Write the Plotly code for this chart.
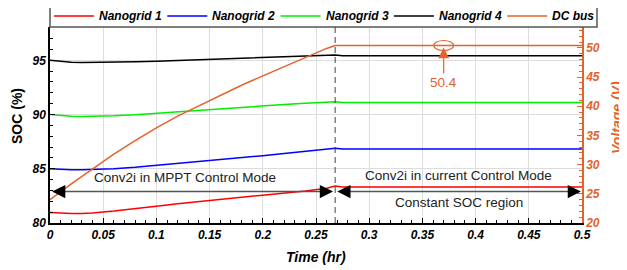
import plotly.graph_objects as go

# ---------------- data ----------------
time_hr = [0, 0.01, 0.02, 0.03, 0.04, 0.06, 0.08, 0.10, 0.12, 0.14, 0.16, 0.18, 0.20,
           0.22, 0.24, 0.26, 0.268, 0.275, 0.30, 0.35, 0.40, 0.45, 0.50]
soc_ng1 = [80.97, 80.9, 80.87, 80.88, 80.93, 81.1, 81.3, 81.55, 81.78, 82.0, 82.2, 82.38,
           82.56, 82.75, 82.95, 83.2, 83.4, 83.32, 83.32, 83.32, 83.32, 83.32, 83.32]
soc_ng2 = [85.0, 84.93, 84.9, 84.9, 84.92, 85.0, 85.13, 85.3, 85.47, 85.65, 85.83, 86.02,
           86.2, 86.4, 86.6, 86.8, 86.88, 86.83, 86.83, 86.83, 86.83, 86.83, 86.83]
soc_ng3 = [90.0, 89.9, 89.84, 89.82, 89.82, 89.88, 89.98, 90.12, 90.27, 90.42, 90.57, 90.7,
           90.82, 90.93, 91.03, 91.13, 91.18, 91.12, 91.12, 91.12, 91.12, 91.12, 91.12]
soc_ng4 = [95.0, 94.9, 94.82, 94.8, 94.8, 94.82, 94.86, 94.92, 94.98, 95.05, 95.12, 95.19,
           95.26, 95.33, 95.4, 95.46, 95.48, 95.42, 95.42, 95.42, 95.42, 95.42, 95.42]
v_dcbus = [24.0, 25.4, 26.7, 28.0, 29.3, 31.8, 34.1, 36.3, 38.3, 40.1, 41.9, 43.6, 45.2,
           46.8, 48.4, 49.9, 50.4, 50.4, 50.4, 50.4, 50.4, 50.4, 50.4]
series_names = ["Nanogrid 1", "Nanogrid 2", "Nanogrid 3", "Nanogrid 4", "DC bus"]

t_switch = 0.268        # mode change time
arrow_soc = 82.9        # level of region arrows
mark_t, mark_v = 0.37, 50.4
mark_label = "50.4"
x_ticks = [0, 0.05, 0.1, 0.15, 0.2, 0.25, 0.3, 0.35, 0.4, 0.45, 0.5]

# ---------------- style ----------------
OFF = 8                      # default page (body) margin of the html page
W, H = 627 - OFF, 270 - OFF
ML, MT = 50 - OFF, 27 - OFF
MR = W - (582 - OFF)
MB = H - (223 - OFF)
PW, PH = W - ML - MR, H - MT - MB
ORANGE = "#E5622C"
FONT = "Liberation Sans, Arial, sans-serif"
colors = ["#FF0000", "#0000FF", "#00EE00", "#000000", ORANGE]


def px_x(p):  # page pixel -> paper x
    return (p - OFF - ML) / PW


def px_y(p):  # page pixel -> paper y
    return (H - MB - (p - OFF)) / PH


fig = go.Figure()
for name, ys, c in zip(series_names[:4], [soc_ng1, soc_ng2, soc_ng3, soc_ng4], colors[:4]):
    fig.add_trace(go.Scatter(x=time_hr, y=ys, name=name, mode="lines",
                             line=dict(color=c, width=1.5)))
fig.add_trace(go.Scatter(x=time_hr, y=v_dcbus, name=series_names[4], mode="lines",
                         line=dict(color=ORANGE, width=1.5), yaxis="y2"))

tickfont = dict(family=FONT, size=12, color="black", weight="bold", style="italic")

fig.update_layout(
    width=W, height=H,
    margin=dict(l=ML, r=MR, t=MT, b=MB, autoexpand=False),
    paper_bgcolor="white", plot_bgcolor="white",
    font=dict(family=FONT, color="black"),
    showlegend=False,
    xaxis=dict(range=[0, 0.5], tickvals=x_ticks, ticks="inside", ticklen=5, tickwidth=1.2,
               tickcolor="black", showline=True, linecolor="black", linewidth=1.5,
               showgrid=True, gridcolor="#DDDDDD", gridwidth=1, zeroline=False,
               minor=dict(dtick=0.01, ticks="inside", ticklen=3, tickcolor="black", showgrid=False),
               tickfont=tickfont),
    yaxis=dict(range=[80, 98.07], tick0=80, dtick=5, ticks="inside", ticklen=5, tickwidth=1.2,
               tickcolor="black", showline=True, linecolor="black", linewidth=1.5,
               showgrid=True, gridcolor="#DDDDDD", gridwidth=1, zeroline=False,
               minor=dict(dtick=1, ticks="inside", ticklen=3, tickcolor="black", showgrid=False),
               tickfont=tickfont),
    yaxis2=dict(range=[20, 53.57], tick0=20, dtick=5, overlaying="y", side="right",
                ticks="inside", ticklen=5, tickwidth=1.2, tickcolor=ORANGE,
                showline=True, linecolor=ORANGE, linewidth=1.5,
                showgrid=False, zeroline=False,
                minor=dict(dtick=1, ticks="inside", ticklen=3, tickcolor=ORANGE, showgrid=False),
                tickfont=dict(family=FONT, size=12, color=ORANGE, weight="bold", style="italic")),
)

# ---------- legend box (drawn from series names / colours) ----------
fig.add_shape(type="rect", xref="paper", yref="paper", x0=px_x(50), x1=px_x(597),
              y0=px_y(27), y1=px_y(5), line=dict(color="#555555", width=1.5),
              fillcolor="white", layer="above")
leg_x0, leg_step = 54, 113.3
for i, (name, c) in enumerate(zip(series_names, colors)):
    lx = leg_x0 + i * leg_step
    fig.add_shape(type="line", xref="paper", yref="paper", x0=px_x(lx), x1=px_x(lx + 40),
                  y0=px_y(16), y1=px_y(16), line=dict(color=c, width=1.5), layer="above")
    fig.add_annotation(xref="paper", yref="paper", x=px_x(lx + 43), y=px_y(16), text=name,
                       showarrow=False, xanchor="left", yanchor="middle",
                       font=dict(family=FONT, size=12, color="black", weight="bold", style="italic"))

# axis titles
fig.add_annotation(xref="paper", yref="paper", x=0.5, y=px_y(257), text="Time (hr)",
                   showarrow=False, xanchor="center", yanchor="middle",
                   font=dict(family=FONT, size=14, color="black", weight="bold", style="italic"))
fig.add_annotation(xref="paper", yref="paper", x=px_x(17), y=px_y(116), text="SOC (%)",
                   showarrow=False, textangle=-90, xanchor="center", yanchor="middle",
                   font=dict(family=FONT, size=14, color="black", weight="bold"))
fig.add_annotation(xref="paper", yref="paper", x=px_x(617), y=px_y(118), text="Voltage (V)",
                   showarrow=False, textangle=-90, xanchor="center", yanchor="middle",
                   font=dict(family=FONT, size=14, color=ORANGE, weight="bold", style="italic"))

# dashed mode switch line
fig.add_shape(type="line", xref="x", yref="paper", x0=t_switch, x1=t_switch, y0=0, y1=1,
              line=dict(color="#444444", width=1, dash="6px,4px"))

# region arrows: gray shafts
fig.add_shape(type="line", xref="x", yref="y", x0=0.003, x1=t_switch - 0.004,
              y0=arrow_soc, y1=arrow_soc, line=dict(color="#555555", width=1.5))
fig.add_shape(type="line", xref="x", yref="y", x0=t_switch + 0.004, x1=0.497,
              y0=arrow_soc, y1=arrow_soc, line=dict(color="#555555", width=1.5))
# arrow heads (black)
for tip, off in [(0.002, 14), (t_switch - 0.002, -14), (t_switch + 0.002, 14), (0.499, -14)]:
    fig.add_annotation(x=tip, y=arrow_soc, xref="x", yref="y", ax=off, ay=0, text="",
                       showarrow=True, arrowhead=2, arrowsize=2.2, arrowwidth=1.2,
                       arrowcolor="black")

txtfont = dict(family=FONT, size=13.5, color="#222222")
fig.add_annotation(x=0.127, y=84.2, xref="x", yref="y", text="Conv2i in MPPT Control Mode",
                   showarrow=False, font=txtfont)
fig.add_annotation(x=(t_switch + 0.5) / 2, y=84.4, xref="x", yref="y",
                   text="Conv2i in current Control Mode", showarrow=False, font=txtfont)
fig.add_annotation(x=(t_switch + 0.5) / 2, y=81.9, xref="x", yref="y",
                   text="Constant SOC region", showarrow=False, font=txtfont)

# 50.4 marker
fig.add_shape(type="circle", xref="x", yref="y2", xsizemode="pixel", ysizemode="pixel",
              xanchor=mark_t, yanchor=mark_v, x0=-10, x1=10, y0=-5, y1=5,
              line=dict(color=ORANGE, width=1.2))
fig.add_annotation(x=mark_t, y=mark_v, xref="x", yref="y2", text=mark_label,
                   showarrow=True, ax=0, ay=37, arrowhead=2, arrowsize=1.8, arrowwidth=1.2,
                   arrowcolor=ORANGE, standoff=2,
                   font=dict(family=FONT, size=13.5, color=ORANGE))

fig.write_html("out.html")
